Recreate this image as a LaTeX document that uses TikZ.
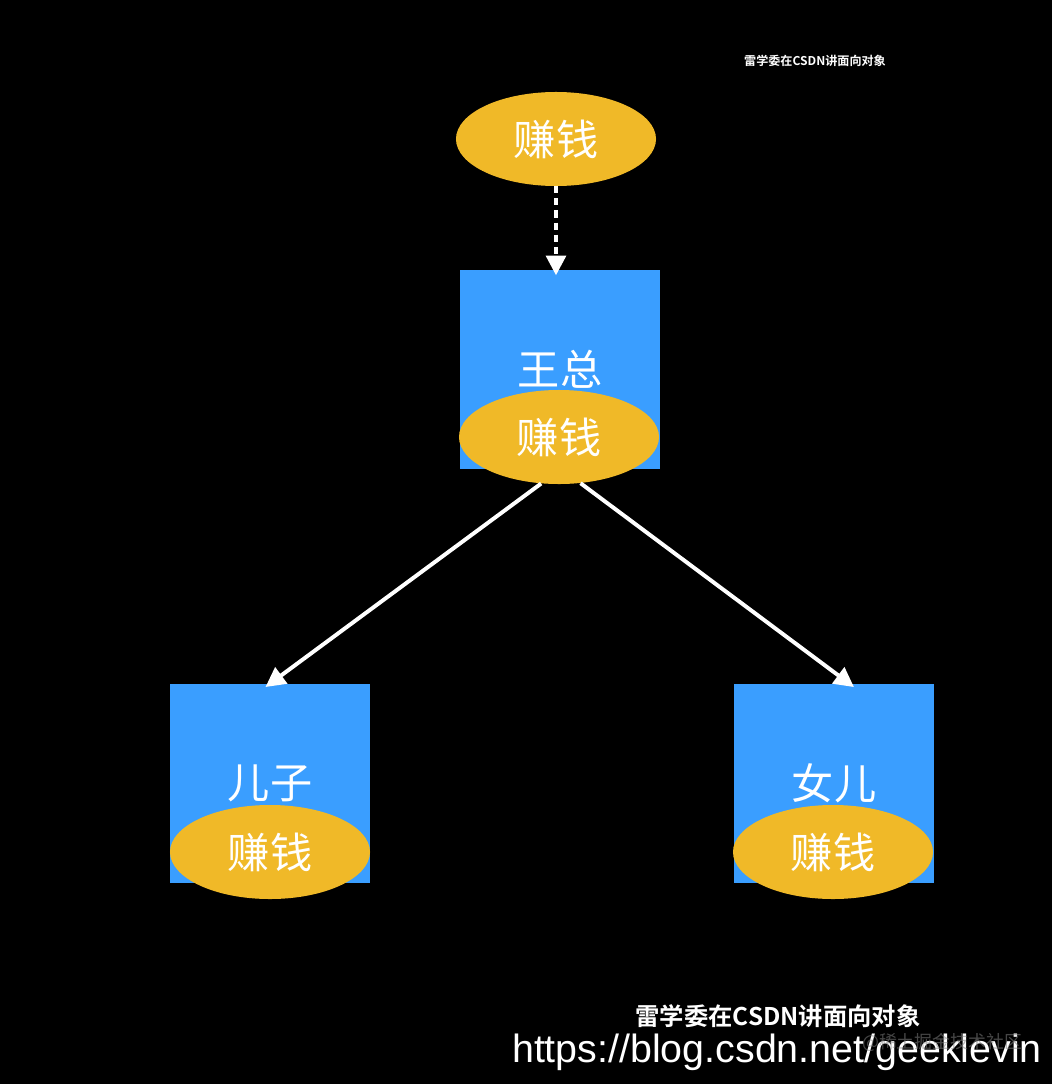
\documentclass[tikz,border=0pt]{standalone}
\usepackage{fontspec}
\usepackage{tikz}
\usetikzlibrary{shapes.geometric,arrows.meta}
\setmainfont{Noto Sans CJK SC}[BoldFont={Noto Sans CJK SC Bold}]
\newfontfamily\urlfont{Liberation Sans}
\definecolor{boxblue}{RGB}{58, 158, 255}
\definecolor{moneygold}{RGB}{240, 185, 40}
\tikzstyle{rolebox} = [rectangle, fill=boxblue, draw=none, minimum width=5cm, minimum height=4.975cm, text=white, font=\fontsize{30}{30}\selectfont, inner sep=0]
\tikzstyle{moneyoval} = [ellipse, fill=moneygold, draw=none, minimum width=5cm, minimum height=2.35cm, text=white, font=\fontsize{30}{30}\selectfont, inner sep=0]
\tikzstyle{arr} = [draw=white, line width=2.8pt, -{Triangle[length=14pt, width=14pt]}, shorten >=-4pt]

\begin{document}
\begin{tikzpicture}[x=0.025cm, y=-0.025cm]
    % Background
    \fill[black] (0,0) rectangle (1052,1084);
    \useasboundingbox (0,0) rectangle (1052,1084);
    % Top watermark
    \node[text=white, font=\bfseries\fontsize{8.6}{9}\selectfont] (TopMark) at (815,61) {雷学委在CSDN讲面向对象};
    % Interface
    \node[moneyoval] (Earn) at (556,139) {赚钱};
    % Boss
    \node[rolebox] (Boss) at (560,369.5) {王总};
    \node[moneyoval] (Boss Earn) at (559,437) {赚钱};
    % Son
    \node[rolebox] (Son) at (270,783.5) {儿子};
    \node[moneyoval] (Son Earn) at (270,852) {赚钱};
    % Daughter
    \node[rolebox] (Daughter) at (834,783.5) {女儿};
    \node[moneyoval] (Daughter Earn) at (833,852) {赚钱};
    % Arrows
    \draw[arr, dashed, dash pattern=on 5pt off 3.6pt] (Earn.south) -- (Earn.south |- Boss.north);
    \draw[arr] (Boss Earn.249) -- (Son.north);
    \draw[arr] (Boss Earn.295) -- ([xshift=11pt]Daughter.north);
    % Bottom watermark
    \node[text=white, font=\bfseries\fontsize{17.3}{18}\selectfont] (Author) at (778,1016) {雷学委在CSDN讲面向对象};
    \node[text=white, font=\urlfont\fontsize{28}{28}\selectfont] (Blog) at (777,1052) {https://blog.csdn.net/geeklevin};
    \node[text=gray, opacity=0.55, font=\fontsize{12.7}{13}\selectfont] (Juejin) at (942,1042) {@稀土掘金技术社区};
\end{tikzpicture}
\end{document}
